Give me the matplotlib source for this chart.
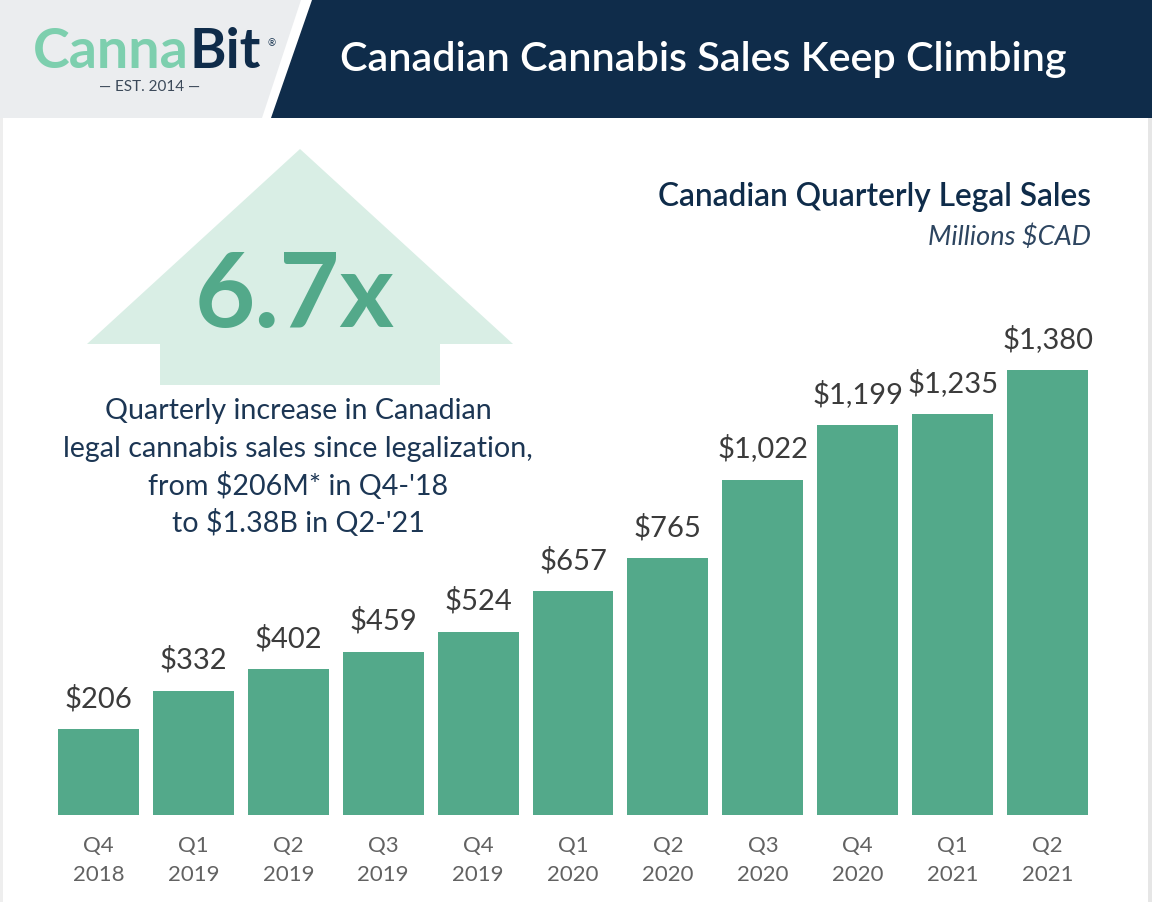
import matplotlib
matplotlib.use("Agg")
import matplotlib.pyplot as plt
from matplotlib.patches import Polygon, Rectangle

# ---- data ----
quarters = ["Q4", "Q1", "Q2", "Q3", "Q4", "Q1", "Q2", "Q3", "Q4", "Q1", "Q2"]
years = ["2018", "2019", "2019", "2019", "2019", "2020", "2020", "2020", "2020", "2021", "2021"]
sales = [206, 332, 402, 459, 524, 657, 765, 1022, 1199, 1235, 1380]
value_labels = ["$206", "$332", "$402", "$459", "$524", "$657", "$765",
                "$1,022", "$1,199", "$1,235", "$1,380"]

title = "Canadian Cannabis Sales Keep Climbing"
chart_title = "Canadian Quarterly Legal Sales"
chart_sub = "Millions $CAD"
big_stat = "6.7x"
stat_lines = ["Quarterly increase in Canadian",
              "legal cannabis sales since legalization,",
              "from $206M* in Q4-'18",
              "to $1.38B in Q2-'21"]

NAVY = "#0f2c4a"
NAVY_TXT = "#1c3654"
GREEN = "#53a98a"
MINT = "#d9eee5"
LOGO_GREEN = "#7dcfae"
GRAY_TXT = "#3b3b3b"
TICK_TXT = "#626262"
FONT = "Lato"

W, H = 1152, 902
fig = plt.figure(figsize=(W / 100, H / 100), dpi=100)
fig.patch.set_facecolor("white")

# background axes in pixel coordinates
bg = fig.add_axes([0, 0, 1, 1], zorder=0)
bg.set_xlim(0, W)
bg.set_ylim(H, 0)
bg.axis("off")

# header
bg.add_patch(Polygon([(0, 0), (301, 0), (262, 118), (0, 118)], closed=True,
                     facecolor="#ebedef", edgecolor="none"))
bg.add_patch(Polygon([(312, 0), (W, 0), (W, 118), (271, 118)], closed=True,
                     facecolor=NAVY, edgecolor="none"))
bg.text(703, 60, title, color="white", fontsize=29.8, family=FONT,
        fontweight="semibold", ha="center", va="center")

# logo
bg.text(189, 52, "Canna", color=LOGO_GREEN, fontsize=40, family=FONT,
        fontweight="bold", ha="right", va="center")
bg.text(189, 52, "Bit", color=NAVY, fontsize=40, family=FONT,
        fontweight="bold", ha="left", va="center")
bg.text(272, 44, "®", color=NAVY, fontsize=7, family=FONT, ha="center", va="center")
bg.text(150, 87, "— EST. 2014 —", color="#3c4a5a", fontsize=11, family=FONT,
        ha="center", va="center")

# side borders
bg.add_patch(Rectangle((0, 118), 3, H - 118, facecolor="#eeeeee", edgecolor="none"))
bg.add_patch(Rectangle((W - 4, 118), 4, H - 118, facecolor="#e6e6e6", edgecolor="none"))

# arrow
bg.add_patch(Polygon([(300, 149), (513, 344), (440, 344), (440, 385),
                      (160, 385), (160, 344), (87, 344)], closed=True,
                     facecolor=MINT, edgecolor="none"))
bg.text(295, 297, big_stat, color=GREEN, fontsize=75, family=FONT,
        fontweight="bold", ha="center", va="center")
for i, line in enumerate(stat_lines):
    bg.text(298, 411 + i * 37.5, line, color=NAVY_TXT, fontsize=20.6,
            family=FONT, ha="center", va="center")

# chart title
bg.text(1091, 197, chart_title, color=NAVY, fontsize=22.8, family=FONT,
        fontweight="semibold", ha="right", va="center")
bg.text(1091, 237, chart_sub, color="#2d4560", fontsize=19.5, family=FONT,
        fontstyle="italic", ha="right", va="center")

# ---- bar chart ----
BASE = -75  # visual base offset used in the reference
ax_left, ax_right = 51 / W, 1095 / W
ax_bottom, ax_top = (H - 815) / H, (H - 140) / H
ax = fig.add_axes([ax_left, ax_bottom, ax_right - ax_left, ax_top - ax_bottom], zorder=1)
ax.patch.set_alpha(0)
x = list(range(len(sales)))
ax.bar(x, [v - BASE for v in sales], bottom=BASE, width=0.853, color=GREEN)
ax.set_xlim(-0.5, len(sales) - 0.5)
ax.set_ylim(BASE, BASE + 675 / 0.3058)
for xi, v, lab in zip(x, sales, value_labels):
    ax.annotate(lab, (xi, v), xytext=(0, 17), textcoords="offset pixels",
                ha="center", va="bottom", fontsize=21, family=FONT,
                color=GRAY_TXT)
ax.set_xticks(x)
ax.set_xticklabels([f"{q}\n{y}" for q, y in zip(quarters, years)],
                   fontsize=16, family=FONT, color=TICK_TXT, linespacing=1.55)
ax.tick_params(axis="x", length=0, pad=15)
ax.set_yticks([])
for s in ax.spines.values():
    s.set_visible(False)

fig.savefig("out.png", dpi=100, facecolor="white")
